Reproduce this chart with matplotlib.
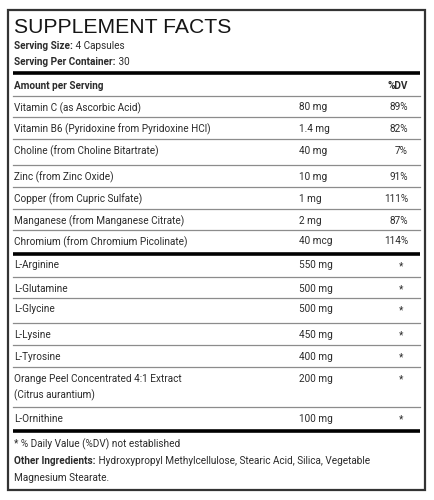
import matplotlib.pyplot as plt

plt.rcParams['font.family'] = ['Roboto', 'DejaVu Sans']

# label content
title = "SUPPLEMENT FACTS"
serving_size = "4 Capsules"
servings_per_container = "30"

vitamin_names = [
    "Vitamin C (as Ascorbic Acid)",
    "Vitamin B6 (Pyridoxine from Pyridoxine HCl)",
    "Choline (from Choline Bitartrate)",
    "Zinc (from Zinc Oxide)",
    "Copper (from Cupric Sulfate)",
    "Manganese (from Manganese Citrate)",
    "Chromium (from Chromium Picolinate)",
]
vitamin_amounts = ["80 mg", "1.4 mg", "40 mg", "10 mg", "1 mg", "2 mg", "40 mcg"]
vitamin_dv = ["89%", "82%", "7%", "91%", "111%", "87%", "114%"]

amino_names = [
    "L-Arginine",
    "L-Glutamine",
    "L-Glycine",
    "L-Lysine",
    "L-Tyrosine",
    "Orange Peel Concentrated 4:1 Extract\n(Citrus aurantium)",
    "L-Ornithine",
]
amino_amounts = ["550 mg", "500 mg", "500 mg", "450 mg", "400 mg", "200 mg", "100 mg"]
amino_dv = ["*", "*", "*", "*", "*", "*", "*"]

footnote = "* % Daily Value (%DV) not established"
other_ingredients = ("Hydroxypropyl Methylcellulose, Stearic Acid, Silica, Vegetable\n"
                     "Magnesium Stearate.")

# layout (pixels, y grows downward)
vit_row_h = [21, 22, 26, 22, 22, 21, 24]
amino_row_h = [23, 21, 25, 22, 22, 40, 24]
X0, X1 = 13, 420
X_AMT, X_DV, X_STAR = 299, 408, 401
TXT = '#2b2b2b'
FS = 7.2

fig = plt.figure(figsize=(4.34, 5.0), dpi=100)
ax = fig.add_axes([0, 0, 1, 1])
ax.set_xlim(0, 434)
ax.set_ylim(500, 0)
ax.axis('off')

# outer box
ax.add_patch(plt.Rectangle((8, 9.5), 417, 480, fill=False, ec='#333333', lw=1.6))

ax.text(14, 25.2, title, fontsize=15.2, family='Liberation Sans', color='#151515',
        va='center_baseline', ha='left')


def label_line(y, bold, rest):
    t = ax.text(14, y, bold, fontsize=FS, fontweight='bold', color=TXT,
                va='center_baseline', ha='left')
    ax.annotate(" " + rest, xy=(1, y), xycoords=(t, 'data'), fontsize=FS,
                color=TXT, va='center_baseline', ha='left')


label_line(45, "Serving Size:", serving_size)
label_line(61, "Serving Per Container:", servings_per_container)

ax.plot([X0, X1], [72.5, 72.5], color='black', lw=2.6, solid_capstyle='butt')
ax.text(14, 85, "Amount per Serving", fontsize=FS, fontweight='bold', color=TXT,
        va='center_baseline')
ax.text(X_DV, 85, "%DV", fontsize=FS, fontweight='bold', color=TXT,
        va='center_baseline', ha='right')
ax.plot([X0, X1], [96, 96], color='#8c8c8c', lw=0.9)


def draw_rows(y, names, amounts, dvs, heights, star):
    for i, (n, a, d, h) in enumerate(zip(names, amounts, dvs, heights)):
        ty = y + 10.5
        for k, ln in enumerate(n.split('\n')):
            ax.text(14, ty + k * 16.5, ln, fontsize=FS, color=TXT, va='center_baseline')
        ax.text(X_AMT, ty, a, fontsize=FS, color=TXT, va='center_baseline')
        if star:
            ax.text(X_STAR, ty + 1, d, fontsize=FS, color=TXT, va='center_baseline', ha='center')
        else:
            ax.text(X_DV, ty, d, fontsize=FS, color=TXT, va='center_baseline', ha='right')
        y += h
        if i < len(names) - 1:
            ax.plot([X0, X1], [y, y], color='#8c8c8c', lw=0.9)
    return y


y = draw_rows(96, vitamin_names, vitamin_amounts, vitamin_dv, vit_row_h, False)
ax.plot([X0, X1], [y, y], color='black', lw=2.6, solid_capstyle='butt')
y = draw_rows(y, amino_names, amino_amounts, amino_dv, amino_row_h, True)
ax.plot([X0, X1], [y, y], color='black', lw=2.6, solid_capstyle='butt')

ax.text(14, 443, footnote, fontsize=FS, color=TXT, va='center_baseline')
oi = other_ingredients.split('\n')
label_line(460, "Other Ingredients:", oi[0])
ax.text(14, 477, oi[1], fontsize=FS, color=TXT, va='center_baseline')

fig.savefig('out.png', dpi=100, facecolor='white')
